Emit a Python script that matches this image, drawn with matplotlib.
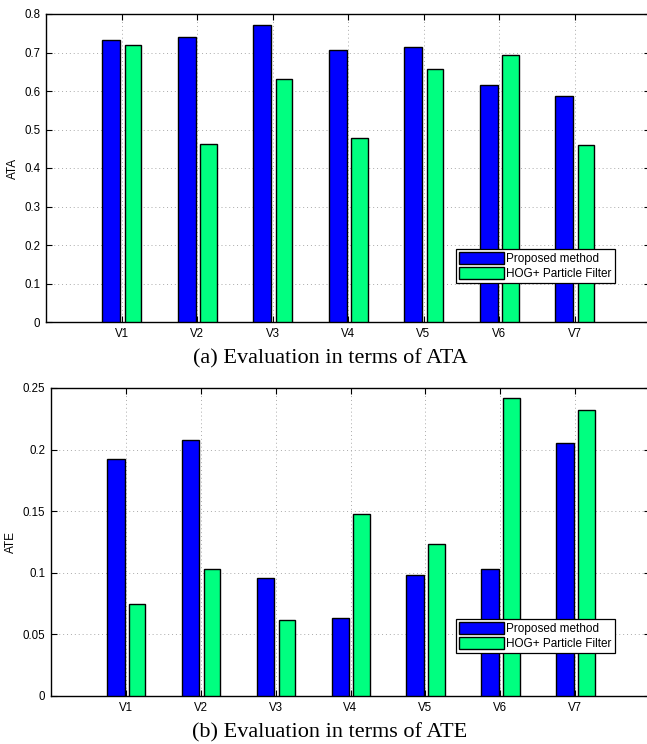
import matplotlib
matplotlib.use("Agg")
import matplotlib.pyplot as plt
import numpy as np

videos = ["V1", "V2", "V3", "V4", "V5", "V6", "V7"]
ata_proposed = [0.732, 0.741, 0.771, 0.706, 0.715, 0.616, 0.588]
ata_hog = [0.719, 0.462, 0.631, 0.478, 0.656, 0.693, 0.460]
ate_proposed = [0.192, 0.208, 0.096, 0.063, 0.098, 0.103, 0.205]
ate_hog = [0.075, 0.103, 0.062, 0.148, 0.123, 0.242, 0.232]
labels = ["Proposed method", "HOG+ Particle Filter"]

W, H = 647, 744
fig = plt.figure(figsize=(W / 100, H / 100), dpi=100)
plt.rcParams['font.family'] = ['Liberation Sans', 'DejaVu Sans']

def make_axes(left, top, bottom):
    right = 650
    return fig.add_axes([left / W, 1 - bottom / H, (right - left) / W, (bottom - top) / H])

def draw(ax, a, b, ymax, step, ylabel, fmt, legend_box):
    x = np.arange(1, len(videos) + 1)
    ax.bar(x - 0.135, a, 0.235, color="#0000ff", edgecolor="black", linewidth=1, label=labels[0], zorder=3)
    ax.bar(x + 0.15, b, 0.22, color="#00ff80", edgecolor="black", linewidth=1, label=labels[1], zorder=3)
    ax.set_xlim(0, 8)
    ax.set_ylim(0, ymax)
    ax.set_xticks(x)
    ax.set_xticklabels(videos)
    yt = np.arange(0, ymax + step / 2, step)
    ax.set_yticks(yt)
    ax.set_yticklabels([fmt(v) for v in yt])
    ax.grid(True, linestyle=(0, (1, 3)), color="#aaaaaa", linewidth=0.7, zorder=0)
    ax.tick_params(direction="in", top=True, right=True, labelsize=8.3, length=4, width=0.8, pad=4)
    ax.set_ylabel(ylabel, fontsize=8.5, labelpad=4)
    for s in ax.spines.values():
        s.set_linewidth(1.0)
    leg = ax.legend(loc="lower left", bbox_to_anchor=legend_box, fontsize=8.5, fancybox=False,
                    framealpha=1, edgecolor="black", borderpad=0.25, labelspacing=0.15,
                    handlelength=3.8, handleheight=1.25, handletextpad=0.25, borderaxespad=0)
    leg.get_frame().set_linewidth(0.9)

def fmt_ata(v):
    return "0" if abs(v) < 1e-9 else ("%.1f" % v)

def fmt_ate(v):
    if abs(v) < 1e-9:
        return "0"
    return ("%.2f" % v).rstrip("0")

ax1 = make_axes(46, 14, 322)
p = ax1.get_position()
draw(ax1, ata_proposed, ata_hog, 0.8, 0.1, "ATA", fmt_ata,
     ((455.7 / W - p.x0) / p.width, ((1 - 282.7 / H) - p.y0) / p.height))

ax2 = make_axes(51, 388, 696)
p = ax2.get_position()
draw(ax2, ate_proposed, ate_hog, 0.25, 0.05, "ATE", fmt_ate,
     ((455.7 / W - p.x0) / p.width, ((1 - 652.7 / H) - p.y0) / p.height))

fig.text(330 / W, 1 - 359 / H, "(a) Evaluation in terms of ATA", ha="center", va="center",
         fontsize=16, family=["Liberation Serif", "DejaVu Serif"])
fig.text(330 / W, 1 - 733 / H, "(b) Evaluation in terms of ATE", ha="center", va="center",
         fontsize=16, family=["Liberation Serif", "DejaVu Serif"])

fig.savefig("out.png", dpi=100)
